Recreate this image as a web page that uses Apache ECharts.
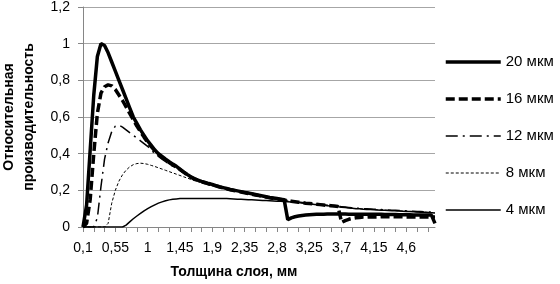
<!DOCTYPE html>
<html>
<head>
<meta charset="utf-8">
<script src="https://cdn.jsdelivr.net/npm/echarts@6/dist/echarts.min.js"></script>
<style>
  html, body { margin: 0; padding: 0; background: #fff; }
  #chart { width: 560px; height: 284px; }
</style>
</head>
<body>
<div id="chart"></div>
<script>
const categories = [
  '0,1', '0,15', '0,2', '0,25', '0,3', '0,35', '0,4', '0,45', '0,5', '0,55',
  '0,6', '0,65', '0,7', '0,75', '0,8', '0,85', '0,9', '0,95', '1', '1,05',
  '1,1', '1,15', '1,2', '1,25', '1,3', '1,35', '1,4', '1,45', '1,5', '1,55',
  '1,6', '1,65', '1,7', '1,75', '1,8', '1,85', '1,9', '1,95', '2', '2,05',
  '2,1', '2,15', '2,2', '2,25', '2,3', '2,35', '2,4', '2,45', '2,5', '2,55',
  '2,6', '2,65', '2,7', '2,75', '2,8', '2,85', '2,9', '2,95', '3', '3,05',
  '3,1', '3,15', '3,2', '3,25', '3,3', '3,35', '3,4', '3,45', '3,5', '3,55',
  '3,6', '3,65', '3,7', '3,75', '3,8', '3,85', '3,9', '3,95', '4', '4,05',
  '4,1', '4,15', '4,2', '4,25', '4,3', '4,35', '4,4', '4,45', '4,5', '4,55',
  '4,6', '4,65', '4,7', '4,75', '4,8', '4,85', '4,9', '4,95', '5'
];

const um20 = [
  0, 0.12, 0.42, 0.72, 0.93, 1, 0.99, 0.95, 0.9, 0.85,
  0.8, 0.75, 0.7, 0.65, 0.6, 0.565, 0.53, 0.5, 0.47, 0.445,
  0.42, 0.4, 0.385, 0.37, 0.356, 0.343, 0.331, 0.316, 0.301, 0.287,
  0.274, 0.264, 0.256, 0.249, 0.243, 0.237, 0.232, 0.226, 0.22, 0.215,
  0.21, 0.205, 0.201, 0.197, 0.193, 0.189, 0.185, 0.181, 0.177, 0.173,
  0.169, 0.165, 0.161, 0.158, 0.155, 0.152, 0.149, 0.04, 0.05, 0.056,
  0.06, 0.063, 0.065, 0.067, 0.068, 0.069, 0.07, 0.07, 0.071, 0.071,
  0.071, 0.071, 0.071, 0.071, 0.07, 0.07, 0.07, 0.07, 0.07, 0.07,
  0.069, 0.069, 0.069, 0.069, 0.068, 0.068, 0.068, 0.068, 0.067, 0.067,
  0.067, 0.067, 0.066, 0.066, 0.066, 0.066, 0.065, 0.065, 0.02
];

const um16 = [
  0, 0.02, 0.15, 0.4, 0.62, 0.73, 0.765, 0.775, 0.77, 0.75,
  0.72, 0.69, 0.655, 0.62, 0.585, 0.55, 0.52, 0.49, 0.462, 0.438,
  0.416, 0.396, 0.38, 0.365, 0.351, 0.338, 0.326, 0.313, 0.299, 0.285,
  0.272, 0.262, 0.254, 0.247, 0.241, 0.235, 0.23, 0.224, 0.218, 0.213,
  0.208, 0.203, 0.199, 0.195, 0.191, 0.187, 0.183, 0.179, 0.175, 0.171,
  0.167, 0.163, 0.159, 0.156, 0.153, 0.15, 0.147, 0.144, 0.141, 0.138,
  0.135, 0.133, 0.13, 0.128, 0.126, 0.124, 0.122, 0.12, 0.118, 0.116,
  0.114, 0.112, 0.025, 0.035, 0.042, 0.047, 0.05, 0.052, 0.054, 0.054,
  0.055, 0.055, 0.055, 0.056, 0.056, 0.056, 0.056, 0.056, 0.056, 0.056,
  0.055, 0.055, 0.055, 0.055, 0.055, 0.055, 0.054, 0.054, 0.054
];

const um12 = [
  0, 0, 0, 0, 0.05, 0.22, 0.37, 0.46, 0.52, 0.55,
  0.555, 0.545, 0.53, 0.515, 0.5, 0.485, 0.47, 0.455, 0.44, 0.42,
  0.4, 0.385, 0.37, 0.356, 0.343, 0.332, 0.321, 0.31, 0.297, 0.284,
  0.271, 0.262, 0.255, 0.249, 0.243, 0.237, 0.231, 0.225, 0.219, 0.214,
  0.209, 0.204, 0.2, 0.196, 0.192, 0.188, 0.184, 0.18, 0.176, 0.172,
  0.168, 0.164, 0.16, 0.157, 0.154, 0.151, 0.148, 0.145, 0.142, 0.139,
  0.136, 0.134, 0.131, 0.129, 0.127, 0.125, 0.123, 0.121, 0.119, 0.117,
  0.115, 0.113, 0.111, 0.109, 0.107, 0.105, 0.103, 0.102, 0.1, 0.099,
  0.098, 0.097, 0.096, 0.095, 0.094, 0.093, 0.092, 0.091, 0.09, 0.089,
  0.088, 0.087, 0.086, 0.085, 0.084, 0.083, 0.082, 0.081, 0.08
];

const um8 = [
  0, 0, 0, 0, 0, 0, 0, 0.02, 0.13, 0.2,
  0.25, 0.285, 0.31, 0.328, 0.34, 0.346, 0.348, 0.346, 0.342, 0.336,
  0.33, 0.323, 0.316, 0.309, 0.302, 0.295, 0.288, 0.281, 0.274, 0.267,
  0.26, 0.253, 0.247, 0.241, 0.235, 0.229, 0.224, 0.219, 0.215, 0.211,
  0.207, 0.202, 0.198, 0.194, 0.19, 0.186, 0.182, 0.178, 0.174, 0.17,
  0.166, 0.162, 0.158, 0.155, 0.152, 0.149, 0.146, 0.143, 0.14, 0.137,
  0.134, 0.132, 0.129, 0.127, 0.125, 0.123, 0.121, 0.119, 0.117, 0.115,
  0.113, 0.111, 0.109, 0.107, 0.105, 0.103, 0.101, 0.1, 0.098, 0.097,
  0.096, 0.095, 0.094, 0.093, 0.092, 0.091, 0.09, 0.089, 0.088, 0.087,
  0.086, 0.085, 0.084, 0.083, 0.082, 0.081, 0.08, 0.079, 0.078
];

const um4 = [
  0, 0, 0, 0, 0, 0, 0, 0, 0, 0,
  0, 0, 0.01, 0.028, 0.045, 0.06, 0.074, 0.088, 0.1, 0.111,
  0.121, 0.13, 0.137, 0.143, 0.148, 0.151, 0.153, 0.155, 0.155, 0.155,
  0.155, 0.155, 0.155, 0.155, 0.155, 0.155, 0.155, 0.155, 0.155, 0.155,
  0.155, 0.154, 0.153, 0.152, 0.151, 0.15, 0.149, 0.148, 0.147, 0.146,
  0.145, 0.144, 0.143, 0.142, 0.141, 0.14, 0.139, 0.138, 0.137, 0.136,
  0.133, 0.131, 0.128, 0.126, 0.124, 0.122, 0.12, 0.118, 0.116, 0.114,
  0.112, 0.11, 0.108, 0.106, 0.104, 0.102, 0.1, 0.099, 0.097, 0.096,
  0.095, 0.094, 0.093, 0.092, 0.091, 0.09, 0.089, 0.088, 0.087, 0.086,
  0.085, 0.084, 0.083, 0.082, 0.081, 0.08, 0.079, 0.078, 0.077
];

const seriesNames = ['20 мкм', '16 мкм', '12 мкм', '8 мкм', '4 мкм'];
const lineWidths = [3.5, 3.5, 1.5, 1, 1.5];
const lineDashes = ['solid', [9, 4], [12, 5, 2, 5], [3, 2], 'solid'];
const seriesData = [um20, um16, um12, um8, um4];

const font = 'Liberation Sans, Arial, sans-serif';
const axisGray = '#868686';

const chart = echarts.init(document.getElementById('chart'), null, { renderer: 'canvas' });

const option = {
  backgroundColor: '#fff',
  animation: false,
  grid: { left: 83, top: 7, right: 125, bottom: 57, outerBoundsMode: 'none', containLabel: false },
  legend: {
    orient: 'vertical',
    left: 444,
    top: 54,
    padding: 0,
    itemWidth: 55,
    itemHeight: 16,
    itemGap: 21,
    data: seriesNames.map((name, i) => ({
      name: name,
      lineStyle: { width: lineWidths[i], type: lineDashes[i], color: '#000' }
    })),
    itemStyle: { color: 'rgba(0,0,0,0)', borderWidth: 0, opacity: 0 },
    textStyle: { fontFamily: font, fontSize: 15, color: '#000', lineHeight: 16 }
  },
  xAxis: {
    type: 'category',
    data: categories,
    boundaryGap: false,
    name: 'Толщина слоя, мм',
    nameLocation: 'middle',
    nameGap: 38,
    nameTextStyle: {
      fontFamily: font, fontSize: 14, fontWeight: 'bold', color: '#000',
      padding: [0, 50, 0, 0]
    },
    axisLine: { show: true, lineStyle: { color: axisGray, width: 1 } },
    axisTick: { show: true, interval: 2, length: 5, lineStyle: { color: axisGray } },
    axisLabel: { interval: 8, margin: 14, fontFamily: font, fontSize: 14, color: '#000' },
    splitLine: { show: false }
  },
  yAxis: {
    type: 'value',
    min: 0,
    max: 1.2,
    interval: 0.2,
    name: 'Относительная\nпроизводительность',
    nameLocation: 'middle',
    nameRotate: 90,
    nameGap: 42,
    nameTextStyle: { fontFamily: font, fontSize: 14, fontWeight: 'bold', color: '#000', lineHeight: 20 },
    axisLine: { show: true, lineStyle: { color: axisGray, width: 1 } },
    axisTick: { show: true, length: 5, lineStyle: { color: axisGray } },
    axisLabel: {
      margin: 13, fontFamily: font, fontSize: 14, color: '#000',
      formatter: v => String(Math.round(v * 10) / 10).replace('.', ',')
    },
    splitLine: { show: true, lineStyle: { color: '#a6a6a6', width: 1 } }
  },
  series: seriesNames.map((name, i) => ({
    name: name,
    type: 'line',
    data: seriesData[i],
    symbol: 'none',
    smooth: false,
    lineStyle: { color: '#000', width: lineWidths[i], type: lineDashes[i] },
    itemStyle: { color: '#000' }
  }))
};

chart.setOption(option);
</script>
</body>
</html>
